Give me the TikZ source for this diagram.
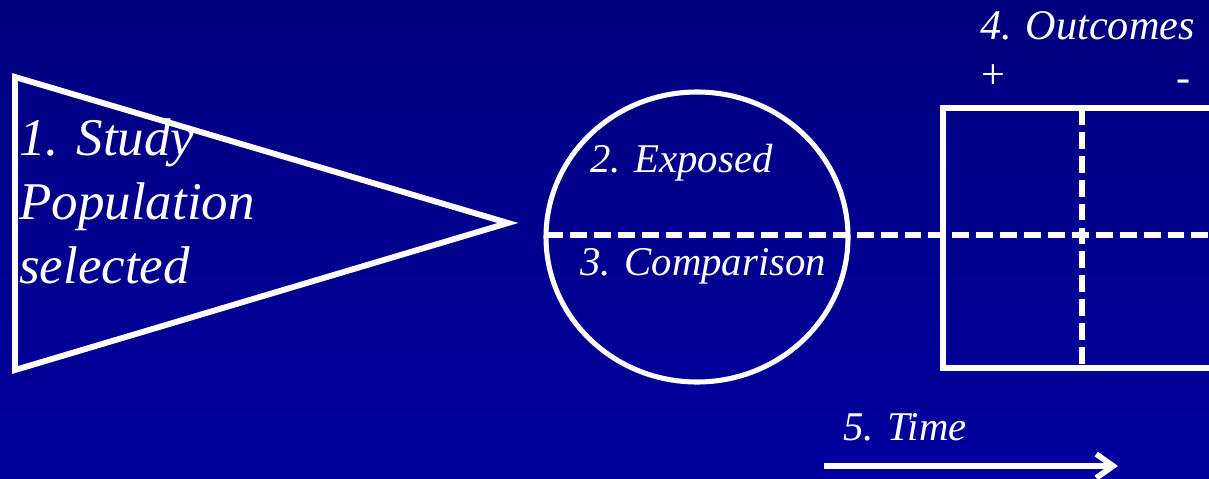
\documentclass[tikz,border=0pt]{standalone}
\usepackage{fontspec}
\setmainfont{Liberation Serif}
\usetikzlibrary{arrows.meta}
\begin{document}
\begin{tikzpicture}[x=0.025cm, y=-0.025cm,
  outline/.style={draw=white, line width=4.2pt, line join=miter},
  divider/.style={draw=white, line width=3.6pt, dash pattern=on 12pt off 5pt},
  label/.style={text=white, font=\itshape, inner sep=0pt, anchor=base west}]
% Background
\useasboundingbox (0,0) rectangle (1209,479);
\shade[top color={rgb,255:red,0;green,0;blue,126}, bottom color={rgb,255:red,0;green,0;blue,158}] (0,0) rectangle (1209,479);

% Study population triangle
\coordinate (tritop) at (15,77);
\coordinate (tribot) at (15,370);
\coordinate (tritip) at (508,223);
\draw[outline] (tritop) -- (tritip) -- (tribot) -- cycle;
\node[label, align=left, font=\itshape\fontsize{37.7}{45.5}\selectfont] (study) at (19,283)
  {1. Study\\Population\\selected};

% Exposure groups circle
\coordinate (groups) at (697,237);
\draw[white, line width=3.6pt] (groups) ellipse (151 and 145);
\coordinate (split) at (546,235);
\coordinate (edge) at (1215,235);
\draw[divider] (split) -- (edge);
\node[label, font=\itshape\fontsize{29}{34}\selectfont] (exposed) at (590,172) {2. Exposed};
\node[label, font=\itshape\fontsize{29}{34}\selectfont] (comparison) at (580,275) {3. Comparison};

% Outcome table
\coordinate (tabtop) at (1082,108);
\coordinate (tabbot) at (1082,368);
\draw[white, line width=3.6pt] (1215,108) -- (943,108) -- (943,368) -- (1215,368);
\draw[divider] (tabtop) -- (tabbot);
\node[label, font=\itshape\fontsize{30}{35}\selectfont] (outcomes) at (980,40) {4. Outcomes};
\node[text=white, font=\fontsize{30}{35}\selectfont] (plus) at (993,77) {+};
\node[text=white, font=\fontsize{30}{35}\selectfont] (minus) at (1184,86) {-};

% Time arrow
\node[label, font=\itshape\fontsize{29}{34}\selectfont] (time) at (843,440) {5. Time};
\coordinate (tstart) at (824,466);
\coordinate (tend) at (1118,466);
\draw[white, line width=4.2pt, -{Straight Barb[length=12pt, width=17pt, line width=4pt]}] (tstart) -- (tend);
\end{tikzpicture}
\end{document}
